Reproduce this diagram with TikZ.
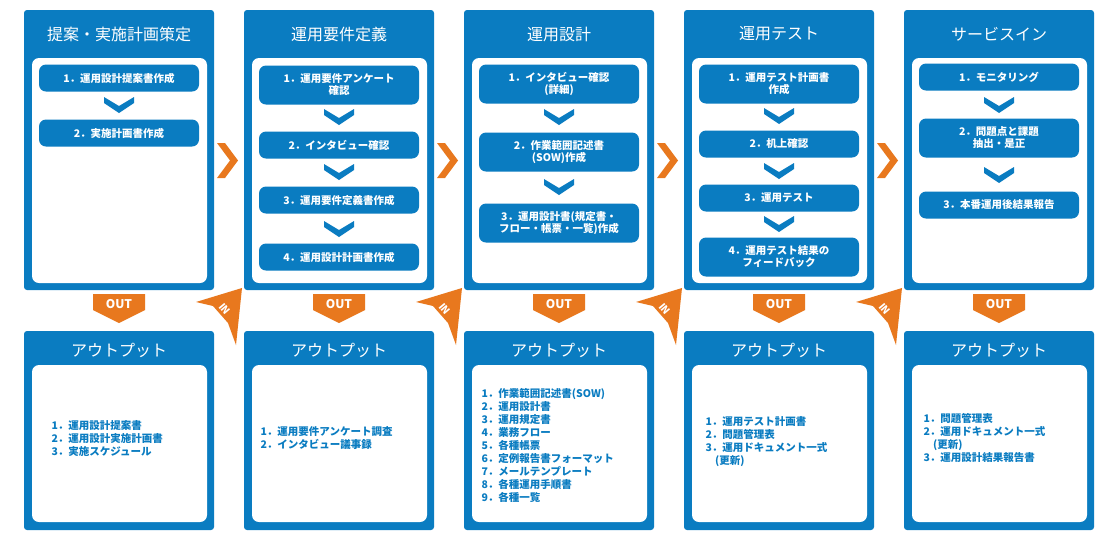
\documentclass[tikz,border=0pt]{standalone}
\usepackage{fontspec}
\setmainfont{Noto Sans CJK JP}
\begin{document}
\definecolor{bl}{HTML}{0A7CC1}
\definecolor{og}{HTML}{E8781E}
\begin{tikzpicture}[x=1pt,y=-1pt,
 outer/.style={fill=bl,rounded corners=3pt},
 inner/.style={fill=white,rounded corners=7pt},
 title/.style={text=white,font=\fontsize{16}{18}\selectfont},
 pill/.style={fill=bl,rounded corners=7pt,text=white,minimum width=160pt,text width=154pt,align=center,inner sep=2pt,font=\fontsize{10.5}{12}\selectfont\bfseries},
 olist/.style={text=bl,align=left,anchor=west,font=\fontsize{10.5}{13}\selectfont\bfseries},
 ]
\fill[white] (0,0) rectangle (1100,550);
\useasboundingbox (0,0) rectangle (1100,550);
\newcommand\dchev[2]{\fill[bl] (#1-15,#2-8) -- (#1,#2+1) -- (#1+15,#2-8) -- (#1+15,#2-2) -- (#1,#2+8) -- (#1-15,#2-2) -- cycle;}
\foreach \i in {0,...,4}{
 \pgfmathsetmacro\L{24+220*\i}
 \pgfmathsetmacro\C{\L+95}
 \fill[outer] (\L,10) rectangle (\L+190,290);
 \fill[inner] (\L+8,58) rectangle (\L+183,283);
 \fill[outer] (\L,331) rectangle (\L+190,530);
 \fill[inner] (\L+8,365) rectangle (\L+183,522);
 \node[title] (ot\i) at (\C,350) {アウトプット};
 \fill[og] (\C-26,294) -- (\C+26,294) -- (\C+26,310) -- (\C,323) -- (\C-26,310) -- cycle;
 \node[text=white,font=\fontsize{12}{12}\selectfont\bfseries] (out\i) at (\C,304) {OUT};
}
\foreach \i in {0,...,3}{
 \pgfmathsetmacro\X{224+220*\i}
 \fill[og] (\X-7,143) -- (\X+1,143) -- (\X+14,160.5) -- (\X+1,178) -- (\X-7,178) -- (\X+6,160.5) -- cycle;
 \fill[og] (\X+18,288) -- (\X-28,302) -- (\X-11,306) -- (\X+4,323) -- (\X+12,345) -- cycle;
 \node[text=white,rotate=-50,font=\fontsize{10}{10}\selectfont\bfseries,inner sep=0pt] (in\i) at (\X+1,309) {IN};
}
% titles
\node[title] at (119,34) {提案・実施計画策定};
\node[title] at (339,34) {運用要件定義};
\node[title] at (559,34) {運用設計};
\node[title] at (779,34) {運用テスト};
\node[title] at (999,34) {サービスイン};
% col1
\node[pill,minimum height=27pt] (a1) at (119,78) {1．運用設計提案書作成};
\node[pill,minimum height=27pt] (a2) at (119,133) {2．実施計画書作成};
\dchev{119}{105}
% col2
\node[pill,minimum height=39pt] (b1) at (339,85) {1．運用要件アンケート\\確認};
\node[pill,minimum height=27pt] (b2) at (339,145) {2．インタビュー確認};
\node[pill,minimum height=27pt] (b3) at (339,200) {3．運用要件定義書作成};
\node[pill,minimum height=27pt] (b4) at (339,257) {4．運用設計計画書作成};
\dchev{339}{117}\dchev{339}{172}\dchev{339}{229}
% col3
\node[pill,minimum height=39pt] (c1) at (559,84) {1．インタビュー確認\\(詳細)};
\node[pill,minimum height=39pt] (c2) at (559,152) {2．作業範囲記述書\\(SOW)作成};
\node[pill,minimum height=39pt] (c3) at (559,223) {3．運用設計書(規定書・\\フロー・帳票・一覧)作成};
\dchev{559}{117}\dchev{559}{187}
% col4
\node[pill,minimum height=39pt] (d1) at (779,84) {1．運用テスト計画書\\作成};
\node[pill,minimum height=27pt] (d2) at (779,144) {2．机上確認};
\node[pill,minimum height=27pt] (d3) at (779,198) {3．運用テスト};
\node[pill,minimum height=39pt] (d4) at (779,257) {4．運用テスト結果の\\フィードバック};
\dchev{779}{116}\dchev{779}{171}\dchev{779}{224}
% col5
\node[pill,minimum height=27pt] (e1) at (999,77) {1．モニタリング};
\node[pill,minimum height=39pt] (e2) at (999,138) {2．問題点と課題\\抽出・是正};
\node[pill,minimum height=27pt] (e3) at (999,205) {3．本番運用後結果報告};
\dchev{999}{105}\dchev{999}{175}
% outputs
\node[olist] (o1) at (48,438) {1．運用設計提案書\\2．運用設計実施計画書\\3．実施スケジュール};
\node[olist] (o2) at (257,438) {1．運用要件アンケート調査\\2．インタビュー議事録};
\node[olist] (o3) at (478,445) {1．作業範囲記述書(SOW)\\2．運用設計書\\3．運用規定書\\4．業務フロー\\5．各種帳票\\6．定例報告書フォーマット\\7．メールテンプレート\\8．各種運用手順書\\9．各種一覧};
\node[olist] (o4) at (702,442) {1．運用テスト計画書\\2．問題管理表\\3．運用ドキュメント一式\\\ \ \ \ (更新)};
\node[olist] (o5) at (920,438) {1．問題管理表\\2．運用ドキュメント一式\\\ \ \ \ (更新)\\3．運用設計結果報告書};
\end{tikzpicture}
\end{document}
